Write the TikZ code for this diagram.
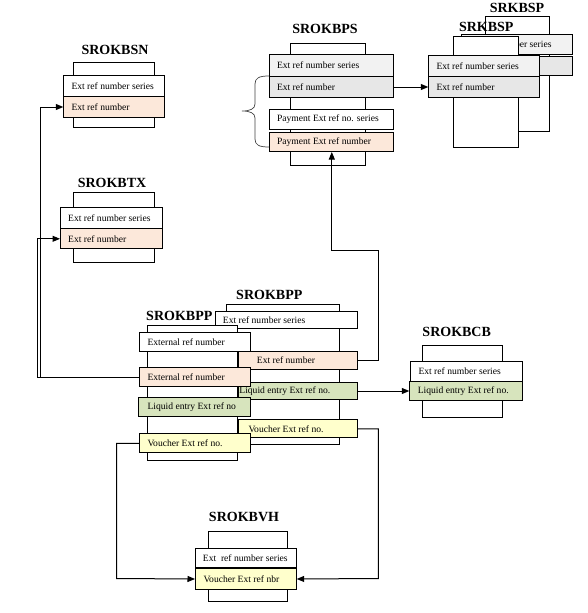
\documentclass[tikz,border=0pt]{standalone}
\usepackage{fontspec}
\setmainfont{Liberation Serif}
\usetikzlibrary{arrows.meta}
\definecolor{peach}{HTML}{FCE8DA}
\definecolor{grayA}{HTML}{F2F2F2}
\definecolor{grayB}{HTML}{E7E7E7}
\definecolor{greenA}{HTML}{D7E4BD}
\definecolor{yellowA}{HTML}{FFFFCC}
\definecolor{bracegray}{HTML}{404040}
\newcommand\mkrow[8]{%
  \node[rowbox, fill=#6, minimum width=#4pt, minimum height=#5pt] (#1) at (#2,#3) {};
  \node[rowtext] (#1t) at ([xshift=#7pt]#1.west) {#8};}
\begin{document}
\begin{tikzpicture}[x=1pt,y=-1pt,
  tblbox/.style={draw, fill=white, line width=1pt, anchor=north west, inner sep=0pt},
  rowbox/.style={draw, line width=1pt, anchor=north west, inner sep=0pt},
  rowtext/.style={anchor=west, inner sep=0pt, font=\fontsize{9.6}{10}\selectfont},
  ttl/.style={inner sep=0pt, font=\fontsize{14}{16}\selectfont\bfseries},
  conn/.style={line width=1pt, -{Triangle[length=7.5pt,width=6pt]}},
  bracestyle/.style={draw=bracegray, line width=0.7pt}
]
\useasboundingbox (0,0) rectangle (587,613);

% SROKBSN
\node[ttl] (bsnT) at (115,50) {SROKBSN};
\node[tblbox, minimum width=81pt, minimum height=65pt] (bsnB) at (73.3,62.3) {};
\mkrow{bsn1}{63.3}{75}{101}{20.7}{white}{8}{Ext ref number series}
\mkrow{bsn2}{63.3}{95.7}{101}{21.6}{peach}{8}{Ext ref number}

% SROKBTX
\node[ttl] (btxT) at (112,182.7) {SROKBTX};
\node[tblbox, minimum width=81pt, minimum height=70pt] (btxB) at (73.3,192.3) {};
\mkrow{btx1}{60}{207.3}{101.7}{21}{white}{8}{Ext ref number series}
\mkrow{btx2}{60}{228.3}{101.7}{20}{peach}{8}{Ext ref number}

% SROKBPS
\node[ttl] (bpsT) at (325,29) {SROKBPS};
\node[tblbox, minimum width=75pt, minimum height=121.7pt] (bpsB) at (290.3,43.3) {};
\mkrow{bps1}{269.3}{54}{124}{21.7}{grayA}{7.5}{Ext ref number series}
\mkrow{bps2}{269.3}{75.7}{124}{21.6}{grayB}{7.5}{Ext ref number}
\mkrow{bps3}{269.3}{109.3}{124}{19.7}{white}{7.5}{Payment Ext ref no. series}
\mkrow{bps4}{269.3}{131.7}{124}{19.3}{peach}{7.5}{Payment Ext ref number}
\draw[bracestyle] (269,76) .. controls (259,76) and (255,78) .. (255,84)
  -- (255,104) .. controls (255,109) and (250,111) .. (242,111)
  .. controls (250,111) and (255,113) .. (255,118)
  -- (255,139) .. controls (255,145) and (259,147) .. (269,147);

% SRKBSP (back)
\node[ttl] (bspbT) at (517,7.5) {SRKBSP};
\node[tblbox, minimum width=64.3pt, minimum height=115pt] (bspbB) at (485,16) {};
\mkrow{bspb1}{461}{34}{110.7}{20}{grayA}{8}{Ext ref number series}
\mkrow{bspb2}{461}{56}{110.7}{19.3}{grayB}{8}{}
% SRKBSP (front)
\node[tblbox, minimum width=65.6pt, minimum height=111pt] (bspfB) at (452.7,36) {};
\node[ttl] (bspfT) at (486.3,27.3) {SRKBSP};
\mkrow{bspf1}{428.3}{55}{111}{20.7}{grayA}{8}{Ext ref number series}
\mkrow{bspf2}{428.3}{76.3}{111}{20.4}{grayB}{8}{Ext ref number}

% SROKBPP (back)
\node[ttl] (bppbT) at (269.3,295) {SROKBPP};
\node[tblbox, minimum width=113.6pt, minimum height=139.7pt] (bppbB) at (225.7,304.3) {};
\mkrow{bppb1}{215}{310.7}{141.7}{17.6}{white}{7.7}{Ext ref number series}
% SROKBPP (front)
\node[tblbox, minimum width=90pt, minimum height=135pt] (bppfB) at (147.3,325) {};
\node[ttl] (bppfT) at (179.3,315.7) {SROKBPP};
\mkrow{bppb2}{237.7}{350.7}{119}{18.6}{peach}{19}{Ext ref number}
\mkrow{bppb3}{237.7}{381.7}{119}{17.6}{greenA}{1.5}{Liquid entry Ext ref no.}
\mkrow{bppb4}{237.7}{419.3}{119}{18}{yellowA}{10.6}{Voucher Ext ref no.}
\mkrow{bppf1}{139.3}{332.3}{110.7}{18.7}{white}{8}{External ref number}
\mkrow{bppf2}{139.3}{367.3}{110.7}{18.7}{peach}{8}{External ref number}
\mkrow{bppf3}{138.3}{397.3}{111.7}{18.7}{greenA}{9}{Liquid entry Ext ref no}
\mkrow{bppf4}{139.3}{433.3}{110.7}{19}{yellowA}{8}{Voucher Ext ref no.}

% SROKBCB
\node[ttl] (bcbT) at (456.7,331.7) {SROKBCB};
\node[tblbox, minimum width=79.4pt, minimum height=72.3pt] (bcbB) at (422.3,345) {};
\mkrow{bcb1}{410}{361}{111.7}{20.2}{white}{8.3}{Ext ref number series}
\mkrow{bcb2}{409.3}{381.2}{112.4}{18.6}{greenA}{8.3}{Liquid entry Ext ref no.}

% SROKBVH
\node[ttl] (bvhT) at (244,517.3) {SROKBVH};
\node[tblbox, minimum width=79pt, minimum height=70pt] (bvhB) at (208.3,531) {};
\mkrow{bvh1}{195}{548.3}{100.7}{18.4}{white}{7.7}{Ext\ \ ref number series}
\mkrow{bvh2}{195}{568.3}{100.7}{20.4}{yellowA}{8.3}{Voucher Ext ref nbr}

% connectors
\coordinate (c1) at (378.7,250.7);
\coordinate (c2) at (378.3,578.5);
\coordinate (c3) at (116.7,578.5);
\draw[conn] (bps2.east) -- (bspf2.west);
\draw[conn] (bppb2.east) -| (c1) -| (bps4.south);
\draw[conn] (bppb3.east) -- (bcb2.west);
\draw[conn] (bppb4.east) -| (c2) -- (bvh2.east);
\draw[conn] (bppf4.west) -| (c3) -- (bvh2.west);
\draw[conn] (bppf2.west) -| ([xshift=-22.5pt]btx2.west) -- (btx2.west);
\draw[conn] (bppf2.west) -| ([xshift=-23pt]bsn2.west) -- (bsn2.west);
\end{tikzpicture}
\end{document}
